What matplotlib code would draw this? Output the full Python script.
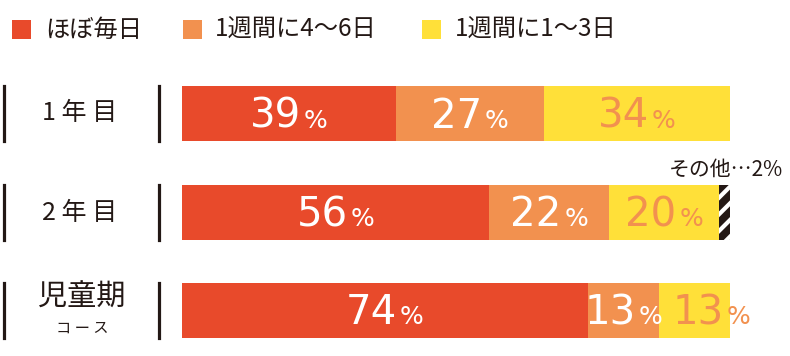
import matplotlib
matplotlib.use('Agg')
import matplotlib.pyplot as plt
from matplotlib.patches import Rectangle
from matplotlib import font_manager
import numpy as np

plt.rcParams['font.family'] = ['Noto Sans CJK JP', 'DejaVu Sans']
plt.rcParams['hatch.linewidth'] = 3.0

# data
groups = ['1 年 目', '2 年 目', '児童期']
group_sub = ['', '', 'コ ー ス']
series = ['ほぼ毎日', '1週間に4〜6日', '1週間に1〜3日', 'その他']
values = [
    [39, 27, 34, 0],
    [56, 22, 20, 2],
    [74, 13, 13, 0],
]
other_label = 'その他…2%'

colors = ['#E84A2B', '#F2914F', '#FFE039', '#231815']
label_colors = ['white', 'white', '#F2914F', None]
ink = '#231815'

dv_path = font_manager.findfont(font_manager.FontProperties(family='DejaVu Sans'))
num_font = font_manager.FontProperties(fname=dv_path, size=29)
pct_font = font_manager.FontProperties(fname=dv_path, size=18)

W, H = 790, 356
fig = plt.figure(figsize=(W / 100, H / 100), dpi=100)
renderer = fig.canvas.get_renderer()


def fx(x):
    return x / W


def fy(y):
    return 1 - y / H


# bar area: x 182..730 px
ax = fig.add_axes([fx(182), 0, fx(730) - fx(182), 1])
ax.set_xlim(0, 100)
ax.set_ylim(H, 0)
ax.axis('off')

row_y = [113.5, 212.5, 310.5]
bar_h = 55
px_per_unit = 548 / 100

for i, vals in enumerate(values):
    left = 0
    for j, v in enumerate(vals):
        if v <= 0:
            continue
        if j == 3:
            ax.barh(row_y[i], v, left=left, height=bar_h, color=colors[j],
                    edgecolor='white', linewidth=0, hatch='//')
        else:
            ax.barh(row_y[i], v, left=left, height=bar_h, color=colors[j],
                    linewidth=0)
            # label: big number + smaller %
            cx = (left + v / 2) * px_per_unit
            if i == 2 and j == 2:
                cx += 17
            base = row_y[i] + 14
            t_num = ax.text(0, base, str(v), fontproperties=num_font,
                            color=label_colors[j], ha='left', va='baseline')
            t_pct = ax.text(0, base, '%', fontproperties=pct_font,
                            color=label_colors[j], ha='left', va='baseline',
                            clip_on=False)
            num_w = t_num.get_window_extent(renderer).width
            pct_w = t_pct.get_window_extent(renderer).width
            gap = 3
            start = cx - (num_w + gap + pct_w) / 2
            t_num.set_x(start / px_per_unit)
            t_pct.set_x((start + num_w + gap) / px_per_unit)
        left += v

fig.text(fx(783), fy(170), other_label, fontsize=15, color=ink,
         ha='right', va='center')

# row labels with vertical rules
for i, g in enumerate(groups):
    for x in (4, 159):
        fig.add_artist(plt.Line2D([fx(x), fx(x)],
                                  [fy(row_y[i] - bar_h / 2), fy(row_y[i] + bar_h / 2)],
                                  color=ink, lw=2.3))
    if group_sub[i]:
        fig.text(fx(82), fy(row_y[i] - 13), g, fontsize=21, color=ink,
                 ha='center', va='center')
        fig.text(fx(82), fy(row_y[i] + 18), group_sub[i], fontsize=11,
                 color=ink, ha='center', va='center')
    else:
        fig.text(fx(80), fy(row_y[i]), g, fontsize=18, color=ink,
                 ha='center', va='center')

# legend
leg_sq_x = [12, 183, 422]
leg_txt_x = [45, 215, 455]
for k in range(3):
    fig.add_artist(Rectangle((fx(leg_sq_x[k]), fy(39)), 19 / W, 19 / H,
                             transform=fig.transFigure, color=colors[k], lw=0))
    fig.text(fx(leg_txt_x[k]), fy(30), series[k], fontsize=17.5, color=ink,
             ha='left', va='center')

fig.savefig('out.png', dpi=100)
